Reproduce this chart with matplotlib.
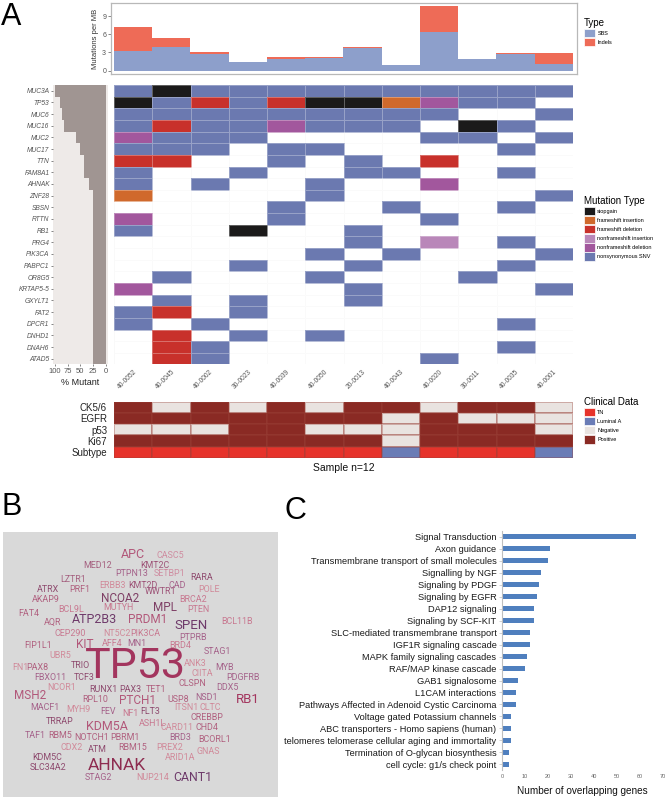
import numpy as np
import matplotlib
matplotlib.use("Agg")
import matplotlib.pyplot as plt
from matplotlib.colors import ListedColormap, BoundaryNorm
from matplotlib.patches import Patch

plt.rcParams['font.family'] = ['Liberation Sans', 'DejaVu Sans']

W, H = 668, 800

# ---- panel A data ----
samples = ["40-0052", "40-0045", "40-0002", "30-0023", "40-0039", "40-0050",
           "20-0013", "40-0043", "40-0020", "30-0011", "40-0035", "40-0001"]
sbs = [3.25, 3.95, 2.75, 1.43, 1.98, 2.15, 3.7, 0.88, 6.4, 2.0, 2.75, 1.1]
indels = [3.9, 1.5, 0.4, 0.0, 0.2, 0.15, 0.2, 0.0, 4.3, 0.0, 0.2, 1.75]

genes = ["MUC3A", "TP53", "MUC6", "MUC16", "MUC2", "MUC17", "TTN", "FAM8A1",
         "AHNAK", "ZNF28", "SBSN", "RTTN", "RB1", "PRG4", "PIK3CA", "PABPC1",
         "OR8G5", "KRTAP5-5", "GXYLT1", "FAT2", "DPCR1", "DNHD1", "DNAH6", "ATAD5"]
pct_mutant = [99, 91, 86, 82, 58, 50, 42, 42, 33, 25, 25, 25, 25, 25, 25, 25,
              25, 25, 25, 25, 25, 25, 25, 25]

mut_types = ["stopgain", "frameshift insertion", "frameshift deletion",
             "nonframeshift insertion", "nonframeshift deletion", "nonsynonymous SNV"]
mut_colors = ["#1b1a1a", "#d0692c", "#c8312b", "#b987b9", "#a2579d", "#6b79b0"]
# . none, B stopgain, I fs insertion, D fs deletion, n nfs insertion, d nfs deletion, S SNV
mut_codes = ".BIDndS"
mutations = [
    "SBSSSSSSSSSS",  # MUC3A
    "BSDSDBBIdSS.",  # TP53
    "SSSSSSSSS..S",  # MUC6
    "SDSSdSSS.BS.",  # MUC16
    "dSSS....SS.S",  # MUC2
    "SSS.SS....S.",  # MUC17
    "DD..S.S.D...",  # TTN
    "S..S..SS..S.",  # FAM8A1
    "S.S..S..d...",  # AHNAK
    "I....S.....S",  # ZNF28
    "....S..S..S.",  # SBSN
    "d...S...S...",  # RTTN
    "S..B..S.....",  # RB1
    "......S.n.S.",  # PRG4
    ".....S.S...S",  # PIK3CA
    "...S..S...S.",  # PABPC1
    ".S...S...S..",  # OR8G5
    "d.....S....S",  # KRTAP5-5
    ".S.S..S.....",  # GXYLT1
    "SD.S........",  # FAT2
    "S.S.......S.",  # DPCR1
    ".D.S.S......",  # DNHD1
    ".DS.......S.",  # DNAH6
    ".DS.....S...",  # ATAD5
]

clin_rows = ["CK5/6", "EGFR", "p53", "Ki67", "Subtype"]
clinical = [
    "PNPNPNPPNPPN",
    "PPPPPPPNPNNN",
    "NNNPPNNNPPPN",
    "PPPPPPPNPPPP",
    "TTTTTTTLTTTL",
]
clin_codes = "NPTL"
clin_labels = ["TN", "Luminal A", "Negative", "Positive"]
clin_colors = ["#e9e3e0", "#8a2a24", "#e6332b", "#6a7cb6"]

# ---- panel C data ----
pathways = ["Signal Transduction", "Axon guidance",
            "Transmembrane transport of small molecules", "Signalling by NGF",
            "Signaling by PDGF", "Signaling by EGFR", "DAP12 signaling",
            "Signaling by SCF-KIT", "SLC-mediated transmembrane transport",
            "IGF1R signaling cascade", "MAPK family signaling cascades",
            "RAF/MAP kinase cascade", "GAB1 signalosome", "L1CAM interactions",
            "Pathways Affected in Adenoid Cystic Carcinoma",
            "Voltage gated Potassium channels",
            "ABC transporters - Homo sapiens (human)",
            "telomeres telomerase cellular aging and immortality",
            "Termination of O-glycan biosynthesis", "cell cycle: g1/s check point"]
overlap = [58, 21, 20, 17, 16, 15, 14, 14, 12, 12, 11, 10, 7, 6, 6, 4, 4, 4, 3, 3]

# ---- panel B word cloud: word, x, y, size, colour ----
sm = 6.4
words = [
    ("APC", 133, 553, 9, "#b2587a"), ("CASC5", 170, 554, sm, "#cf8ca0"),
    ("MED12", 98, 564, sm, "#a5607f"), ("KMT2C", 155, 564, sm, "#9e5478"),
    ("PTPN13", 132, 573, sm, "#a5628a"), ("SETBP1", 170, 573, sm, "#cf8ca0"),
    ("LZTR1", 73, 579, sm, "#a5607f"), ("RARA", 202, 577, sm, "#8e4a6e"),
    ("ERBB3", 112, 584, sm, "#d18a9a"), ("KMT2D", 143, 584, sm, "#9e5478"),
    ("CAD", 177, 584, sm, "#a5628a"), ("ATRX", 48, 589, sm, "#8e4a6e"),
    ("PRF1", 80, 589, sm, "#b0607f"), ("POLE", 209, 589, sm, "#d18a9a"),
    ("NCOA2", 120, 597, 8.5, "#7e3f65"), ("WWTR1", 160, 591, sm, "#9e5478"),
    ("AKAP9", 46, 599, sm, "#b0607f"), ("BRCA2", 193, 599, sm, "#c87890"),
    ("FAT4", 29, 612, sm, "#b0607f"), ("BCL9L", 71, 608, sm, "#c87890"),
    ("MUTYH", 118, 607, sm, "#c87890"), ("MPL", 165, 606, 8.5, "#7e3f65"),
    ("PTEN", 198, 609, sm, "#c87890"), ("AQR", 53, 621, sm, "#b0607f"),
    ("ATP2B3", 94, 618, 9, "#6e3a6a"), ("PRDM1", 148, 618, 8.5, "#b2587a"),
    ("SPEN", 191, 624, 9.5, "#6e3a6a"), ("BCL11B", 237, 621, sm, "#c87890"),
    ("CEP290", 70, 633, sm, "#c87890"), ("NT5C2", 117, 632, sm, "#d18a9a"),
    ("PIK3CA", 145, 633, sm, "#c87890"), ("PTPRB", 193, 636, sm, "#a5628a"),
    ("FIP1L1", 38, 644, sm, "#b0607f"), ("KIT", 85, 643, 8.5, "#b2587a"),
    ("AFF4", 112, 643, sm, "#c87890"), ("MN1", 137, 643, sm, "#a5628a"),
    ("BRD4", 180, 645, sm, "#c87890"), ("STAG1", 217, 651, sm, "#a5628a"),
    ("UBR5", 60, 655, sm, "#d18a9a"), ("ANK3", 195, 663, sm, "#d18a9a"),
    ("MYB", 225, 666, sm, "#a5628a"), ("FN1", 20, 667, sm, "#d18a9a"),
    ("PAX8", 37, 666, sm, "#b0607f"), ("TRIO", 80, 664, sm, "#8e4a6e"),
    ("FBXO11", 50, 677, sm, "#a5628a"), ("TCF3", 84, 676, sm, "#8e4a6e"),
    ("CIITA", 202, 673, sm, "#d18a9a"), ("PDGFRB", 243, 677, sm, "#a5628a"),
    ("MSH2", 30, 694, 8.5, "#b2587a"), ("NCOR1", 62, 687, sm, "#d18a9a"),
    ("RUNX1", 103, 689, sm, "#8e4a6e"), ("PAX3", 130, 689, sm, "#8e4a6e"),
    ("TET1", 156, 689, sm, "#b0607f"), ("CLSPN", 192, 683, sm, "#b0607f"),
    ("DDX5", 227, 687, sm, "#a5628a"), ("RB1", 248, 698, 9.5, "#a3355e"),
    ("RPL10", 95, 699, sm, "#b0607f"), ("PTCH1", 138, 699, 8.5, "#b2587a"),
    ("USP8", 178, 698, sm, "#b0607f"), ("NSD1", 207, 697, sm, "#a5628a"),
    ("CLTC", 210, 706, sm, "#d18a9a"), ("MACF1", 45, 706, sm, "#a5628a"),
    ("MYH9", 78, 709, sm, "#d18a9a"), ("FEV", 108, 710, sm, "#a5628a"),
    ("NF1", 130, 712, sm, "#c87890"), ("FLT3", 150, 710, sm, "#8e4a6e"),
    ("ITSN1", 186, 707, sm, "#d18a9a"), ("CREBBP", 207, 716, sm, "#b0607f"),
    ("TRRAP", 60, 720, sm, "#8e4a6e"), ("KDM5A", 107, 725, 9, "#b2587a"),
    ("ASH1L", 152, 722, sm, "#c87890"), ("CARD11", 177, 726, sm, "#d18a9a"),
    ("CHD4", 207, 727, sm, "#b0607f"), ("TAF1", 35, 735, sm, "#a5628a"),
    ("RBM5", 60, 735, sm, "#b0607f"), ("NOTCH1", 92, 737, sm, "#b0607f"),
    ("PBRM1", 125, 736, sm, "#b0607f"), ("BRD3", 180, 736, sm, "#a5628a"),
    ("BCORL1", 215, 738, sm, "#b0607f"), ("CDX2", 72, 747, sm, "#d18a9a"),
    ("ATM", 97, 748, sm, "#8e4a6e"), ("RBM15", 133, 747, sm, "#b0607f"),
    ("PREX2", 170, 746, sm, "#d18a9a"), ("GNAS", 208, 750, sm, "#d18a9a"),
    ("KDM5C", 47, 757, sm, "#8e4a6e"), ("SLC34A2", 48, 766, sm, "#8e4a6e"),
    ("AHNAK", 117, 764, 12.5, "#8e2c50"), ("ARID1A", 180, 757, sm, "#d18a9a"),
    ("STAG2", 98, 776, sm, "#a5628a"), ("NUP214", 153, 776, sm, "#d18a9a"),
    ("CANT1", 193, 776, 8.8, "#6e3a6a"),
    ("TP53", 135, 662, 31, "#a3355e"),
]


fig = plt.figure(figsize=(W / 100, H / 100), dpi=100)


def px_axes(x0, y0, x1, y1):
    return fig.add_axes([x0 / W, 1 - y1 / H, (x1 - x0) / W, (y1 - y0) / H])


n_s = len(samples)
n_g = len(genes)

# top bar chart
ax_top = px_axes(111, 3, 577, 74)
x = np.arange(n_s)
ax_top.bar(x, sbs, width=1, align='edge', color="#8d9fcb", linewidth=0)
ax_top.bar(x, indels, bottom=sbs, width=1, align='edge', color="#ee6b57", linewidth=0)
ax_top.set_xlim(-0.078, 12.105)
ax_top.set_ylim(-0.54, 11.15)
ax_top.set_xticks([])
ax_top.set_yticks([0, 3, 6, 9])
ax_top.tick_params(axis='y', labelsize=5, colors='#555555', length=2, width=0.5, pad=1.5)
ax_top.set_ylabel("Mutations per MB", fontsize=5.5, color='#333333', labelpad=2)
for s in ax_top.spines.values():
    s.set_color('#b8b8b8')
    s.set_linewidth(0.9)

# % mutant bars
ax_pct = px_axes(53, 85, 107.5, 364.5)
ax_pct.set_facecolor('#eeeae8')
ax_pct.barh(np.arange(n_g) + 0.5, pct_mutant, height=1, color='#a09592', linewidth=0)
ax_pct.set_xlim(103.9, -3.5)
ax_pct.set_ylim(n_g, 0)
ax_pct.set_xticks([100, 75, 50, 25, 0])
ax_pct.set_yticks(np.arange(n_g) + 0.5)
ax_pct.set_yticklabels(genes, fontsize=4.8, style='italic', color='#444444')
ax_pct.tick_params(axis='y', length=1.5, width=0.5, pad=1, colors='#555555')
ax_pct.tick_params(axis='x', labelsize=5.5, length=1.5, width=0.5, pad=1, colors='#555555')
ax_pct.set_xlabel("% Mutant", fontsize=6.5, color='#222222', labelpad=2)
for s in ax_pct.spines.values():
    s.set_visible(False)

# mutation heatmap
ax_hm = px_axes(114, 85, 573, 364.5)
for k in range(n_s + 1):
    ax_hm.axvline(k, color='#f2f2f2', lw=0.4, zorder=0)
for k in range(n_g + 1):
    ax_hm.axhline(k, color='#f2f2f2', lw=0.4, zorder=0)
grid = np.array([[mut_codes.index(c) for c in row] for row in mutations], dtype=float)
grid = np.ma.masked_equal(grid, 0)
cmap = ListedColormap(["#ffffff"] + mut_colors)
norm = BoundaryNorm(np.arange(-0.5, len(mut_codes)), cmap.N)
ax_hm.pcolormesh(np.arange(n_s + 1), np.arange(n_g + 1), grid, cmap=cmap, norm=norm,
                 edgecolors=(1, 1, 1, 0.3), linewidth=0.4, zorder=1)
ax_hm.set_xlim(0, n_s)
ax_hm.set_ylim(n_g, 0)
ax_hm.set_yticks([])
ax_hm.set_xticks(np.arange(n_s) + 0.5)
ax_hm.set_xticklabels(samples, rotation=45, ha='right', rotation_mode='anchor',
                      fontsize=4.8, color='#555555')
ax_hm.tick_params(axis='x', length=0, pad=3)
for s in ax_hm.spines.values():
    s.set_visible(False)

# clinical data
ax_cl = px_axes(114, 401.7, 573, 457.7)
cgrid = np.array([[clin_codes.index(c) for c in row] for row in clinical])
ccmap = ListedColormap(clin_colors)
cnorm = BoundaryNorm(np.arange(-0.5, len(clin_codes)), ccmap.N)
ax_cl.pcolormesh(np.arange(n_s + 1), np.arange(len(clin_rows) + 1), cgrid, cmap=ccmap,
                 norm=cnorm, edgecolors=(0.6, 0.25, 0.22, 0.35), linewidth=0.3)
ax_cl.set_xlim(0, n_s)
ax_cl.set_ylim(len(clin_rows), 0)
ax_cl.set_xticks([])
ax_cl.set_yticks(np.arange(len(clin_rows)) + 0.5)
ax_cl.set_yticklabels(clin_rows, fontsize=7, color='#222222')
ax_cl.tick_params(axis='y', length=0, pad=5)
for s in ax_cl.spines.values():
    s.set_visible(False)
ax_cl.set_xlabel("Sample n=12", fontsize=7.5, color='#111111', labelpad=4)

# legends
leg_kw = dict(loc='upper left', bbox_transform=fig.transFigure, frameon=False,
              fontsize=4, handlelength=2.0, handleheight=2.0, labelspacing=0.1,
              handletextpad=0.4, borderpad=0, borderaxespad=0, alignment='left')
fig.legend(handles=[Patch(facecolor=c, edgecolor='white', linewidth=0.5, label=l)
                    for c, l in zip(["#8d9fcb", "#ee6b57"], ["SBS", "Indels"])],
           bbox_to_anchor=(584 / W, 1 - 18 / H), title="Type", title_fontsize=7, **leg_kw)
fig.legend(handles=[Patch(facecolor=c, edgecolor='white', linewidth=0.5, label=l)
                    for c, l in zip(mut_colors, mut_types)],
           bbox_to_anchor=(584 / W, 1 - 196 / H), title="Mutation Type", title_fontsize=7, **leg_kw)
clin_leg_colors = [clin_colors[2], clin_colors[3], clin_colors[0], clin_colors[1]]
fig.legend(handles=[Patch(facecolor=c, edgecolor='white', linewidth=0.5, label=l)
                    for c, l in zip(clin_leg_colors, clin_labels)],
           bbox_to_anchor=(584 / W, 1 - 397 / H), title="Clinical Data", title_fontsize=7, **leg_kw)

# panel B word cloud
ax_wc = px_axes(3, 532, 278, 797)
ax_wc.set_facecolor('#d9d9d9')
ax_wc.set_xlim(3, 278)
ax_wc.set_ylim(797, 532)
ax_wc.set_xticks([])
ax_wc.set_yticks([])
for s in ax_wc.spines.values():
    s.set_visible(False)
for w, wx, wy, size, col in words:
    ax_wc.text(wx, wy, w, fontsize=size, color=col, ha='center', va='center_baseline',
               family=['Roboto', 'DejaVu Sans'])

# panel C bar chart
ax_c = px_axes(502, 531, 663.3, 770.2)
yy = np.arange(len(pathways))
ax_c.barh(yy, overlap, height=0.42, color='#4f7fbe')
ax_c.set_xlim(0, 70)
ax_c.set_ylim(len(pathways) - 0.5, -0.5)
ax_c.set_yticks(yy)
ax_c.set_yticklabels(pathways, fontsize=6.7, color='#1a1a1a')
ax_c.tick_params(axis='y', length=2, width=0.5, colors='#bfbfbf', labelcolor='#1a1a1a', pad=2)
ax_c.set_xticks(np.arange(0, 71, 10))
ax_c.tick_params(axis='x', labelsize=4, length=0, colors='#666666', pad=3)
ax_c.set_xlabel("Number of overlapping genes", fontsize=7.2, color='#111111', labelpad=5)
for k in ['top', 'right', 'bottom']:
    ax_c.spines[k].set_visible(False)
ax_c.spines['left'].set_color('#bfbfbf')
ax_c.spines['left'].set_linewidth(0.8)

# panel letters
fig.text(1 / W, 1 - 2 / H, "A", fontsize=22, va='top', ha='left')
fig.text(2 / W, 1 - 492 / H, "B", fontsize=22, va='top', ha='left')
fig.text(285 / W, 1 - 496 / H, "C", fontsize=22, va='top', ha='left')

fig.savefig("out.png", dpi=100)
